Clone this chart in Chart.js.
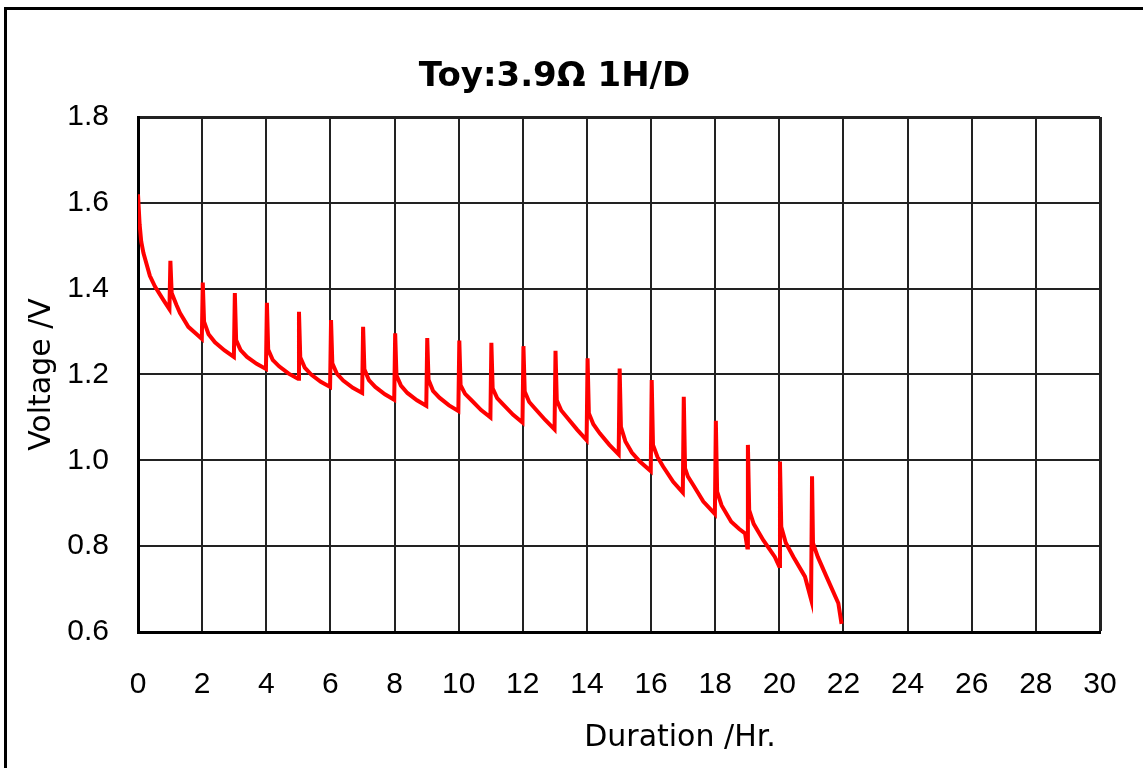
<!DOCTYPE html>
<html>
<head>
<meta charset="utf-8">
<script src="https://cdn.jsdelivr.net/npm/chart.js@4.4.1/dist/chart.umd.min.js"></script>
<style>
  html, body { margin: 0; padding: 0; background: #fff; overflow: hidden; }
  #wrap { position: relative; width: 1143px; height: 768px; }
  #frame {
    position: absolute; left: 4px; top: 7px; width: 1200px; height: 800px;
    border-left: 3px solid #000; border-top: 3px solid #000; pointer-events: none;
  }
</style>
</head>
<body>
<div id="wrap">
  <canvas id="grafico"></canvas>
  <div id="frame"></div>
</div>
<script>
// dados (horas de descarga, tensao em V)
const hours = [
  0, 0.05, 0.1, 0.17, 0.37, 0.53, 0.79, 0.98,
  1.01, 1.05, 1.2, 1.31, 1.57, 1.83, 1.99,
  2.02, 2.06, 2.2, 2.4, 2.7, 2.99,
  3.02, 3.06, 3.2, 3.4, 3.7, 3.99,
  4.02, 4.06, 4.2, 4.4, 4.7, 4.99,
  5.02, 5.06, 5.2, 5.4, 5.7, 5.99,
  6.02, 6.06, 6.2, 6.4, 6.7, 6.99,
  7.02, 7.06, 7.2, 7.4, 7.7, 7.99,
  8.02, 8.06, 8.2, 8.4, 8.7, 8.99,
  9.02, 9.06, 9.2, 9.4, 9.7, 9.99,
  10.02, 10.06, 10.2, 10.4, 10.7, 10.99,
  11.02, 11.06, 11.2, 11.4, 11.7, 11.99,
  12.02, 12.06, 12.2, 12.4, 12.7, 12.99,
  13.02, 13.06, 13.2, 13.4, 13.7, 13.99,
  14.02, 14.06, 14.2, 14.4, 14.7, 14.99,
  15.02, 15.06, 15.2, 15.4, 15.65, 15.99,
  16.02, 16.06, 16.2, 16.38, 16.69, 16.99,
  17.02, 17.06, 17.15, 17.32, 17.63, 17.99,
  18.02, 18.06, 18.2, 18.5, 18.75, 18.93, 19.0,
  19.02, 19.06, 19.2, 19.5, 19.86, 19.99,
  20.02, 20.06, 20.2, 20.44, 20.8, 20.99,
  21.02, 21.05, 21.2, 21.47, 21.84, 21.94
];
const volts = [
  1.62, 1.55, 1.51, 1.483, 1.43, 1.405, 1.374, 1.352,
  1.465, 1.39, 1.362, 1.343, 1.311, 1.294, 1.283,
  1.414, 1.323, 1.294, 1.275, 1.256, 1.241,
  1.39, 1.28, 1.257, 1.241, 1.225, 1.213,
  1.367, 1.258, 1.234, 1.219, 1.202, 1.19,
  1.346, 1.24, 1.216, 1.2, 1.183, 1.171,
  1.327, 1.226, 1.202, 1.186, 1.169, 1.157,
  1.311, 1.212, 1.187, 1.171, 1.154, 1.141,
  1.296, 1.198, 1.174, 1.157, 1.14, 1.127,
  1.285, 1.188, 1.162, 1.146, 1.128, 1.115,
  1.279, 1.175, 1.155, 1.14, 1.117, 1.10,
  1.274, 1.168, 1.145, 1.129, 1.106, 1.088,
  1.266, 1.16, 1.136, 1.119, 1.094, 1.072,
  1.255, 1.14, 1.116, 1.098, 1.071, 1.047,
  1.238, 1.11, 1.084, 1.063, 1.036, 1.014,
  1.214, 1.078, 1.044, 1.018, 0.997, 0.975,
  1.187, 1.036, 1.008, 0.985, 0.95, 0.925,
  1.148, 0.981, 0.962, 0.942, 0.904, 0.875,
  1.092, 0.927, 0.895, 0.857, 0.84, 0.83, 0.797,
  1.036, 0.884, 0.852, 0.814, 0.775, 0.754,
  0.997, 0.845, 0.808, 0.775, 0.729, 0.676,
  0.963, 0.807, 0.775, 0.729, 0.667, 0.619
];

const titulo = "Toy:3.9Ω 1H/D";
const tituloX = "Duration /Hr.";
const tituloY = "Voltage /V";
const xMin = 0, xMax = 30, xStep = 2;
const yMin = 0.6, yMax = 1.8, yStep = 0.2;

// titulo do eixo x fica deslocado para a direita no original
const tituloEixoX = {
  id: 'tituloEixoX',
  afterDraw(chart) {
    const { ctx, chartArea } = chart;
    ctx.save();
    ctx.fillStyle = '#000';
    ctx.font = "30px 'DejaVu Sans', sans-serif";
    ctx.textAlign = 'center';
    ctx.textBaseline = 'middle';
    ctx.fillText(tituloX, (chartArea.left + chartArea.right) / 2 + 61, 738);
    ctx.restore();
  }
};

document.addEventListener("DOMContentLoaded", function () {
  const ctx = document.getElementById("grafico").getContext("2d");
  const pontos = hours.map((h, i) => ({ x: h, y: volts[i] }));
  const fonte = "'Liberation Sans', Arial, sans-serif";
  const fonteTit = "'DejaVu Sans', sans-serif";

  new Chart(ctx, {
    type: 'line',
    data: {
      datasets: [{
        data: pontos,
        borderColor: '#FF0000',
        borderWidth: 4,
        pointRadius: 0,
        tension: 0,
        fill: false
      }]
    },
    plugins: [tituloEixoX],
    options: {
      responsive: true,
      maintainAspectRatio: false,
      animation: false,
      layout: { padding: { left: 9, right: 43, top: 10, bottom: 0 } },
      plugins: {
        legend: { display: false },
        tooltip: { enabled: false },
        title: {
          display: true,
          text: titulo,
          color: '#000',
          font: { family: fonteTit, size: 34, weight: 'bold' },
          padding: { top: 47, bottom: 19.2 }
        }
      },
      scales: {
        x: {
          type: 'linear',
          min: xMin,
          max: xMax,
          afterFit: s => { s.height = 136; s.paddingLeft = 0; s.paddingRight = 0; },
          grid: {
            color: '#222',
            lineWidth: c => c.tick && c.tick.value === xMax ? 3 : 2,
            drawTicks: false
          },
          border: { color: '#000', width: 3 },
          ticks: {
            stepSize: xStep,
            padding: 35,
            color: '#000',
            maxRotation: 0,
            font: { family: fonte, size: 30 }
          }
        },
        y: {
          type: 'linear',
          min: yMin,
          max: yMax,
          afterFit: s => { s.width = 129; },
          grid: {
            color: '#222',
            lineWidth: c => c.tick && Math.abs(c.tick.value - yMax) < 1e-6 ? 3 : 2,
            drawTicks: false
          },
          border: { color: '#000', width: 3 },
          ticks: {
            stepSize: yStep,
            padding: 29,
            color: '#000',
            font: { family: fonte, size: 30 },
            callback: v => v.toFixed(1)
          },
          title: {
            display: true,
            text: tituloY,
            color: '#000',
            font: { family: fonteTit, size: 30 },
            padding: { top: 15 }
          }
        }
      }
    }
  });
});
</script>
</body>
</html>
